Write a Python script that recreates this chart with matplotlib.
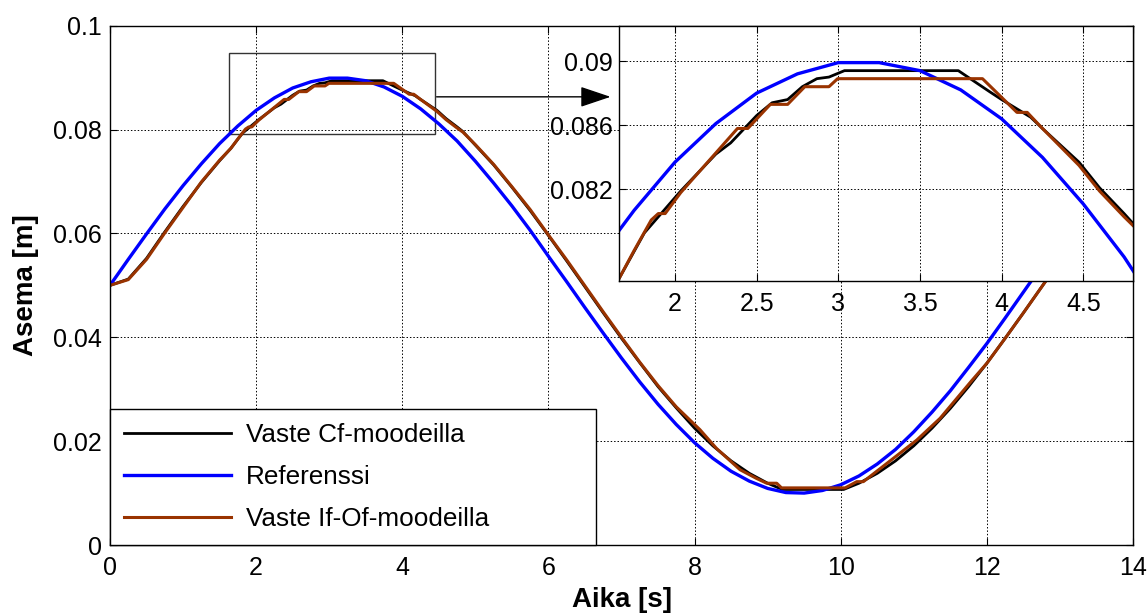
import numpy as np
import matplotlib
matplotlib.use('Agg')
import matplotlib.pyplot as plt
from matplotlib.patches import Rectangle

plt.rcParams['font.family'] = ['Liberation Sans', 'DejaVu Sans']

# --- data ---
# Referenssi (blue)
t_ref = [0.0, 0.25, 0.5, 0.75, 1.0, 1.25, 1.5, 1.75, 2.0, 2.25, 2.5, 2.75, 3.0, 3.25,
         3.5, 3.75, 4.0, 4.25, 4.5, 4.75, 5.0, 5.25, 5.5, 5.75, 6.0, 6.25, 6.5, 6.75,
         7.0, 7.25, 7.5, 7.75, 8.0, 8.25, 8.5, 8.75, 9.0, 9.25, 9.5, 9.75, 10.0, 10.25,
         10.5, 10.75, 11.0, 11.25, 11.5, 11.75, 12.0, 12.25, 12.5, 12.75, 13.0, 13.25,
         13.5, 13.75, 14.0]
y_ref = [0.0500, 0.0550, 0.0599, 0.0647, 0.0692, 0.0734, 0.0773, 0.0807, 0.0837, 0.0861,
         0.0880, 0.0892, 0.0899, 0.0899, 0.0894, 0.0882, 0.0864, 0.0840, 0.0811, 0.0778,
         0.0739, 0.0697, 0.0653, 0.0606, 0.0556, 0.0507, 0.0457, 0.0408, 0.0360, 0.0314,
         0.0271, 0.0232, 0.0197, 0.0167, 0.0142, 0.0123, 0.0109, 0.0101, 0.0100, 0.0105,
         0.0116, 0.0133, 0.0156, 0.0184, 0.0218, 0.0256, 0.0297, 0.0342, 0.0388, 0.0437,
         0.0487, 0.0537, 0.0586, 0.0634, 0.0680, 0.0723, 0.0763]

# Vaste Cf-moodeilla (black)
t_cf = [0.0, 0.25, 0.5, 0.75, 1.0, 1.25, 1.5, 1.655, 1.813, 2.035, 2.25, 2.341, 2.5,
        2.595, 2.69, 2.78, 2.869, 2.943, 3.038, 3.735, 3.925, 4.0, 4.178, 4.25, 4.474,
        4.6, 4.75, 4.83, 5.0, 5.25, 5.5, 5.75, 6.0, 6.25, 6.5, 6.75, 7.0, 7.25, 7.5,
        7.75, 8.0, 8.25, 8.5, 8.75, 9.0, 9.2, 10.04, 10.25, 10.5, 10.75, 11.0, 11.25,
        11.5, 11.75, 12.0, 12.25, 12.5, 12.75, 13.0, 13.25, 13.5, 13.75, 14.0]
y_cf = [0.0500, 0.0512, 0.0552, 0.0603, 0.0652, 0.0698, 0.0740, 0.0764, 0.0793, 0.0819,
        0.0842, 0.0849, 0.0866, 0.0874, 0.0876, 0.0884, 0.0889, 0.0890, 0.0894, 0.0894,
        0.0881, 0.0876, 0.0865, 0.0858, 0.0837, 0.0821, 0.0805, 0.0796, 0.0770, 0.0732,
        0.0689, 0.0644, 0.0596, 0.0547, 0.0497, 0.0447, 0.0398, 0.0351, 0.0305, 0.0264,
        0.0225, 0.0191, 0.0162, 0.0138, 0.0119, 0.0107, 0.0107, 0.0119, 0.0138, 0.0162,
        0.0191, 0.0225, 0.0263, 0.0305, 0.0350, 0.0398, 0.0447, 0.0497, 0.0547, 0.0596,
        0.0644, 0.0689, 0.0731]

# Vaste If-Of-moodeilla (brown)
t_ifof = [0.0, 0.25, 0.5, 0.75, 1.0, 1.25, 1.5, 1.655, 1.75, 1.855, 1.898, 1.94, 2.035,
          2.235, 2.383, 2.446, 2.584, 2.69, 2.795, 2.943, 2.996, 3.883, 4.094, 4.157,
          4.25, 4.474, 4.6, 4.75, 4.83, 5.0, 5.25, 5.5, 5.75, 6.0, 6.25, 6.5, 6.75, 7.0,
          7.25, 7.5, 7.75, 8.074, 8.3, 8.622, 8.85, 8.987, 9.124, 9.19, 10.06, 10.22,
          10.31, 10.63, 11.04, 11.36, 11.79, 12.0, 12.25, 12.5, 12.75, 13.0, 13.25,
          13.5, 13.75, 14.0]
y_ifof = [0.0500, 0.0511, 0.0550, 0.0601, 0.0650, 0.0699, 0.0741, 0.0764, 0.0782, 0.0801,
          0.0805, 0.0805, 0.0818, 0.0841, 0.0858, 0.0858, 0.0873, 0.0873, 0.0884, 0.0884,
          0.0889, 0.0889, 0.0868, 0.0868, 0.0858, 0.0835, 0.0819, 0.0803, 0.0795, 0.0771,
          0.0733, 0.0690, 0.0646, 0.0597, 0.0549, 0.0499, 0.0449, 0.0400, 0.0352, 0.0307,
          0.0266, 0.0222, 0.0186, 0.0145, 0.0128, 0.0119, 0.0119, 0.0110, 0.0110, 0.0122,
          0.0122, 0.0157, 0.0202, 0.0244, 0.0316, 0.0350, 0.0398, 0.0447, 0.0497, 0.0547,
          0.0596, 0.0644, 0.0689, 0.0731]

labels = ['Vaste Cf-moodeilla', 'Referenssi', 'Vaste If-Of-moodeilla']
colors = ['black', 'blue', '#993300']

x_ticks = [0, 2, 4, 6, 8, 10, 12, 14]
y_ticks = [0, 0.02, 0.04, 0.06, 0.08, 0.1]
y_ticklabels = ['0', '0.02', '0.04', '0.06', '0.08', '0.1']
ins_x_ticks = [2, 2.5, 3, 3.5, 4, 4.5]
ins_x_ticklabels = ['2', '2.5', '3', '3.5', '4', '4.5']
ins_y_ticks = [0.082, 0.086, 0.09]
ins_y_ticklabels = ['0.082', '0.086', '0.09']

series = [(t_cf, y_cf), (t_ref, y_ref), (t_ifof, y_ifof)]
widths = [2.0, 2.4, 2.2]

fs = 18
grid_style = dict(color='black', linestyle=(0, (1.5, 2)), linewidth=0.7)

fig = plt.figure(figsize=(11.47, 6.13), dpi=100)
ax = fig.add_axes([0.0959, 0.1109, 0.8919, 0.8472])

for (t, y), lab, c, w in zip(series, labels, colors, widths):
    ax.plot(t, y, color=c, linewidth=w, label=lab)

ax.set_xlim(0, 14)
ax.set_ylim(0, 0.1)
ax.set_xticks(x_ticks)
ax.set_yticks(y_ticks)
ax.set_yticklabels(y_ticklabels)
ax.tick_params(direction='in', top=True, right=True, labelsize=fs, length=5)
ax.tick_params(axis='x', pad=8)
ax.tick_params(axis='y', pad=6)
ax.grid(True, **grid_style)
ax.set_xlabel('Aika [s]', fontsize=20, fontweight='bold', labelpad=5)
ax.set_ylabel('Asema [m]', fontsize=20, fontweight='bold', labelpad=10)
for sp in ax.spines.values():
    sp.set_linewidth(1.0)

# zoom box and arrow
ax.add_patch(Rectangle((1.624, 0.0791), 2.826, 0.0156, fill=False,
                       edgecolor='#333333', linewidth=1.0, zorder=1.5))
ax.annotate('', xy=(6.85, 0.0863), xytext=(4.47, 0.0863),
            arrowprops=dict(arrowstyle='-|>,head_length=0.95,head_width=0.32',
                            mutation_scale=20, color='black', linewidth=1.0,
                            shrinkA=0, shrinkB=0))

lgd = ax.legend(loc='lower left', bbox_to_anchor=(0, 0, 0.475, 0.266), mode='expand',
                borderaxespad=0, fancybox=False, edgecolor='black', framealpha=1,
                fontsize=18.8, handlelength=4.1, handletextpad=0.57, labelspacing=0.68,
                borderpad=0.55)
lgd.get_frame().set_linewidth(1.0)

# inset
axi = fig.add_axes([0.5399, 0.5416, 0.4481, 0.4165])
for (t, y), c, w in zip(series, colors, widths):
    axi.plot(t, y, color=c, linewidth=w)
axi.set_xlim(1.659, 4.806)
axi.set_ylim(0.0763, 0.0922)
axi.set_xticks(ins_x_ticks)
axi.set_xticklabels(ins_x_ticklabels)
axi.set_yticks(ins_y_ticks)
axi.set_yticklabels(ins_y_ticklabels)
axi.tick_params(direction='in', top=True, right=True, labelsize=fs, length=5)
axi.tick_params(axis='x', pad=8)
axi.tick_params(axis='y', pad=5)
axi.grid(True, **grid_style)
for sp in axi.spines.values():
    sp.set_linewidth(1.0)

fig.savefig('out.png', dpi=100)
